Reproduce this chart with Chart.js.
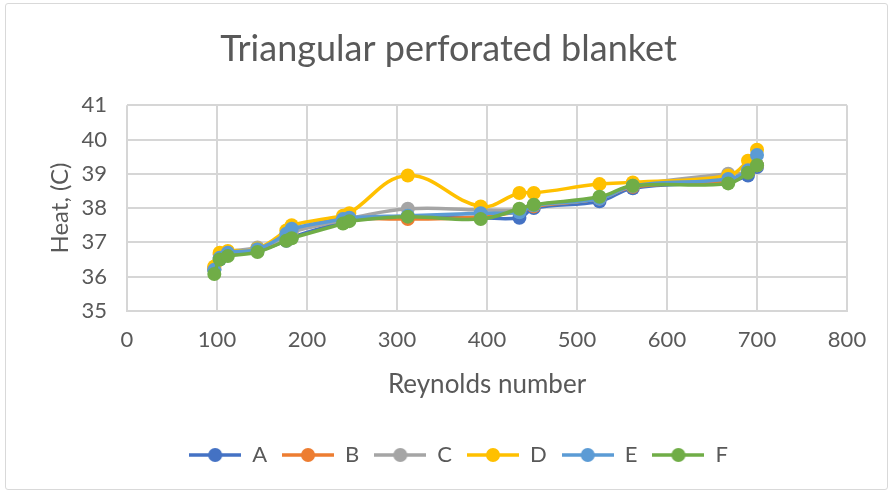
<!DOCTYPE html>
<html>
<head>
<meta charset="utf-8">
<script src="https://cdn.jsdelivr.net/npm/chart.js@4.4.1/dist/chart.umd.min.js"></script>
<style>
    html, body { margin: 0; padding: 0; background: #fff; }
    #wrap { position: relative; width: 892px; height: 493px; }
    #frame { position: absolute; left: 5px; top: 3px; width: 881px; height: 485px; border: 1px solid #d9d9d9; border-radius: 3px; }
    #heatChart { position: absolute; left: 0; top: 0; }
</style>
</head>
<body>
<div id="wrap">
    <div id="frame"></div>
    <canvas id="heatChart" width="892" height="493"></canvas>
</div>
<script>
// Chart data
const seriesNames = ['A', 'B', 'C', 'D', 'E', 'F'];
const seriesColors = ['#4472C4', '#ED7D31', '#A5A5A5', '#FFC000', '#5B9BD5', '#70AD47'];
const reynolds = [97, 103, 112, 145, 177, 183, 240, 247, 312, 393, 436, 452, 525, 562, 668, 690, 700];
const heatA = [36.2, 36.5, 36.65, 36.75, 37.05, 37.15, 37.6, 37.65, 37.75, 37.72, 37.72, 38.0, 38.2, 38.58, 38.78, 38.95, 39.2];
const heatB = [36.25, 36.65, 36.7, 36.8, 37.2, 37.35, 37.72, 37.72, 37.68, 37.75, 37.9, 38.05, 38.28, 38.62, 38.78, 39.05, 39.25];
const heatC = [36.2, 36.55, 36.72, 36.85, 37.15, 37.3, 37.65, 37.7, 37.98, 37.95, 37.95, 38.08, 38.28, 38.65, 39.0, 39.05, 39.25];
const heatD = [36.3, 36.7, 36.75, 36.82, 37.35, 37.5, 37.78, 37.85, 38.95, 38.05, 38.44, 38.44, 38.7, 38.75, 38.95, 39.38, 39.7];
const heatE = [36.2, 36.55, 36.7, 36.8, 37.25, 37.4, 37.68, 37.72, 37.78, 37.85, 37.88, 38.08, 38.28, 38.65, 38.85, 39.1, 39.55];
const heatF = [36.08, 36.5, 36.6, 36.72, 37.05, 37.12, 37.55, 37.62, 37.75, 37.68, 37.98, 38.1, 38.33, 38.65, 38.72, 39.03, 39.25];
const xTicks = [0, 100, 200, 300, 400, 500, 600, 700, 800];
const yTicks = [35, 36, 37, 38, 39, 40, 41];

const allHeat = [heatA, heatB, heatC, heatD, heatE, heatF];
const textColor = '#595959';
const gridColor = '#d6d6d6';
const fontFamily = 'Lato, "Open Sans", sans-serif';

// Legend marker: short line with a dot in the middle
function legendMarker(color) {
    const c = document.createElement('canvas');
    c.width = 52;
    c.height = 16;
    const g = c.getContext('2d');
    g.strokeStyle = color;
    g.lineWidth = 3.5;
    g.beginPath();
    g.moveTo(0, 8);
    g.lineTo(52, 8);
    g.stroke();
    g.fillStyle = color;
    g.beginPath();
    g.arc(26, 8, 7, 0, Math.PI * 2);
    g.fill();
    return c;
}
const markers = seriesColors.map(legendMarker);

const datasets = seriesNames.map((name, i) => ({
    label: name,
    data: reynolds.map((x, j) => ({ x: x, y: allHeat[i][j] })),
    showLine: true,
    tension: 0.4,
    borderColor: seriesColors[i],
    backgroundColor: seriesColors[i],
    borderWidth: 3.5,
    pointRadius: 7,
    pointBorderWidth: 0,
    pointStyle: 'circle',
    // later series drawn on top, like the original
    order: seriesNames.length - i
}));

// Nudge title and legend to sit where the original has them
const shiftBoxes = {
    id: 'shiftBoxes',
    afterLayout(chart) {
        if (chart.titleBlock) {
            chart.titleBlock.left += 10;
            chart.titleBlock.right += 10;
        }
        if (chart.legend) {
            chart.legend.left += 20;
            chart.legend.right += 20;
        }
    }
};

const ctx = document.getElementById('heatChart').getContext('2d');
new Chart(ctx, {
    type: 'scatter',
    data: { datasets: datasets },
    plugins: [shiftBoxes],
    options: {
        responsive: false,
        animation: false,
        layout: { padding: { left: 30, right: 45, top: 0, bottom: 17 } },
        plugins: {
            title: {
                display: true,
                text: 'Triangular perforated blanket',
                color: textColor,
                font: { family: fontFamily, size: 36, weight: 'normal' },
                padding: { top: 28, bottom: 34 }
            },
            legend: {
                position: 'bottom',
                labels: {
                    color: textColor,
                    font: { family: fontFamily, size: 22 },
                    usePointStyle: true,
                    pointStyleWidth: 52,
                    padding: 15,
                    sort: (a, b) => a.datasetIndex - b.datasetIndex,
                    generateLabels(chart) {
                        const items = Chart.defaults.plugins.legend.labels.generateLabels(chart);
                        items.forEach(item => { item.pointStyle = markers[item.datasetIndex]; });
                        return items;
                    }
                }
            },
            tooltip: { enabled: false }
        },
        scales: {
            x: {
                type: 'linear',
                min: 0,
                max: 800,
                afterBuildTicks(scale) { scale.ticks = xTicks.map(v => ({ value: v })); },
                afterFit(scale) { scale.height = 118; },
                grid: { color: gridColor, lineWidth: 2, drawTicks: false },
                border: { color: gridColor, width: 2 },
                ticks: { color: textColor, font: { family: fontFamily, size: 22 }, padding: 16, maxRotation: 0 },
                title: {
                    display: true,
                    text: 'Reynolds number',
                    color: textColor,
                    font: { family: fontFamily, size: 26 },
                    padding: { top: 4, bottom: 29 }
                }
            },
            y: {
                type: 'linear',
                min: 35,
                max: 41,
                afterBuildTicks(scale) { scale.ticks = yTicks.map(v => ({ value: v })); },
                afterFit(scale) { scale.width = 97; },
                grid: { color: gridColor, lineWidth: 2, drawTicks: false },
                border: { display: false },
                ticks: { color: textColor, font: { family: fontFamily, size: 22 }, padding: 20 },
                title: {
                    display: true,
                    text: 'Heat, (C)',
                    color: textColor,
                    font: { family: fontFamily, size: 24 },
                    padding: { top: 16, bottom: 4 }
                }
            }
        }
    }
});
</script>
</body>
</html>
